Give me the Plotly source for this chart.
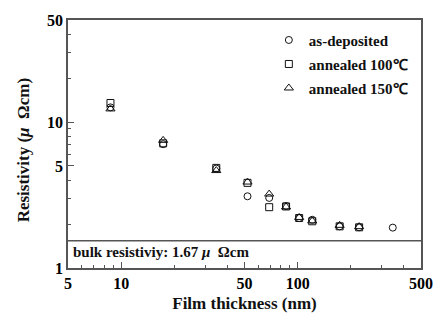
import plotly.graph_objects as go

thickness = [8.7, 17.3, 34.6, 52, 69, 86, 102, 121, 173, 223, 346]
as_deposited = [12.6, 7.05, 4.8, 3.10, 3.02, 2.66, 2.2, 2.14, 1.93, 1.90, 1.89]
thickness_a = [8.7, 17.3, 34.6, 52, 69, 86, 102, 121, 173, 223]
annealed_100 = [13.5, 7.15, 4.85, 3.83, 2.61, 2.64, 2.2, 2.09, 1.93, 1.90]
annealed_150 = [12.3, 7.49, 4.65, 3.88, 3.21, 2.62, 2.22, 2.1, 1.96, 1.92]
bulk_line = 1.54
bulk_label = "bulk resistiviy: 1.67 <i>μ</i>  Ωcm"
x_ticks = [5, 10, 50, 100, 500]
y_ticks = [1, 5, 10, 50]
x_minor = [6, 7, 8, 9, 20, 30, 40, 60, 70, 80, 90, 200, 300, 400]
y_minor = [2, 3, 4, 6, 7, 8, 9, 20, 30, 40]

FONT = "Liberation Serif, Times New Roman, serif"
INK = "#111"
AX = "#555"

fig = go.Figure()
series = [
    ("as-deposited", thickness, as_deposited, "circle-open", 7),
    ("annealed 100℃", thickness_a, annealed_100, "square-open", 7),
    ("annealed 150℃", thickness_a, annealed_150, "triangle-up-open", 8),
]
for i, (name, xs, ys, sym, sz) in enumerate(series):
    fig.add_trace(go.Scatter(
        x=xs, y=ys, mode="markers", name=f"<b>{name}</b>", legendgroup=f"g{i}",
        marker=dict(symbol=sym, size=sz, color=INK, line=dict(width=1, color=INK)),
    ))

fig.add_shape(type="line", xref="paper", yref="y", x0=0, x1=1,
              y0=bulk_line, y1=bulk_line, line=dict(color=AX, width=1.5))
fig.add_annotation(text=f"<b>{bulk_label}</b>", xref="paper", yref="paper",
                   x=0.008, y=0.065, xanchor="left", yanchor="middle",
                   showarrow=False, font=dict(family=FONT, size=15, color=INK))
fig.add_annotation(text="<b>Resistivity (<i>μ</i>  Ωcm)</b>", xref="paper", yref="paper",
                   x=-0.127, y=0.475, xanchor="center", yanchor="middle",
                   textangle=-90, showarrow=False,
                   font=dict(family=FONT, size=17, color=INK))

fig.update_layout(
    width=445, height=322,
    margin=dict(l=68, r=15, t=18, b=47),
    paper_bgcolor="white", plot_bgcolor="white",
    font=dict(family=FONT, color=INK),
    showlegend=True,
    legend=dict(x=0.569, y=0.985, xanchor="left", yanchor="top",
                bgcolor="rgba(0,0,0,0)", tracegroupgap=1.5,
                font=dict(family=FONT, size=15, color=INK)),
    xaxis=dict(
        type="log", range=[0.69897, 2.69897],
        tickvals=x_ticks, ticktext=[f"<b>{v}</b>" for v in x_ticks],
        ticks="inside", ticklen=6, tickwidth=1, tickcolor=AX,
        minor=dict(tickvals=x_minor, ticks="inside", ticklen=3, tickcolor=AX),
        showline=True, linecolor=AX, linewidth=1.5, mirror=True,
        showgrid=False, zeroline=False,
        tickfont=dict(family=FONT, size=16, color="#000", weight="bold"),
        title=dict(text="<b>Film thickness (nm)</b>", standoff=6,
                   font=dict(family=FONT, size=17, color=INK)),
    ),
    yaxis=dict(
        type="log", range=[0, 1.69897],
        tickvals=y_ticks, ticktext=[f"<b>{v}</b>" for v in y_ticks],
        ticks="inside", ticklen=6, tickwidth=1, tickcolor=AX,
        minor=dict(tickvals=y_minor, ticks="inside", ticklen=3, tickcolor=AX),
        showline=True, linecolor=AX, linewidth=1.5, mirror=True,
        showgrid=False, zeroline=False,
        tickfont=dict(family=FONT, size=16, color="#000", weight="bold"),
    ),
)

fig.write_html("out.html")
